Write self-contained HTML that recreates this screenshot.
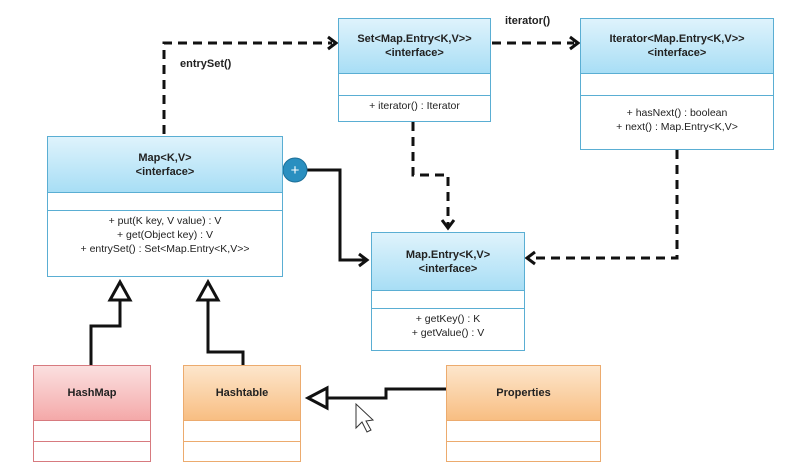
<!DOCTYPE html>
<html><head><meta charset="utf-8"><style>
body{margin:0;width:792px;height:469px;background:#fff;overflow:hidden;font-family:"Liberation Sans",sans-serif;}
.b{position:absolute;box-sizing:border-box;border:1.5px solid #5aaed3;background:#fff;}
.h{box-sizing:border-box;background:linear-gradient(#dff3fc,#a8def5);border-bottom:1.5px solid #5aaed3;display:flex;flex-direction:column;justify-content:center;align-items:center;font-size:11px;font-weight:bold;color:#222;line-height:14px;text-align:center;}
.e{box-sizing:border-box;border-bottom:1.5px solid #5aaed3;}
.m{font-size:10.5px;color:#222;text-align:center;line-height:14px;padding-top:3px;}
.r{border-color:#d77a7f}.r .h{background:linear-gradient(#fbe0e0,#f4a9a9);border-color:#d77a7f}.r .e{border-color:#d77a7f}
.o{border-color:#ecab6e}.o .h{background:linear-gradient(#fde6cc,#f8be82);border-color:#ecab6e}.o .e{border-color:#ecab6e}
.lbl{position:absolute;font-size:11px;font-weight:bold;color:#222;}
</style></head><body>
<svg width="792" height="469" style="position:absolute;left:0;top:0">
<g fill="none" stroke="#111" stroke-width="3">
<path d="M164 134 V43 H332" stroke-dasharray="9,6"/>
<path d="M328 37 L336 43 L328 49"/>
<path d="M492 43 H574" stroke-dasharray="9,6"/>
<path d="M570 37 L578 43 L570 49"/>
<path d="M413 122 V175 H448 V226" stroke-dasharray="9,6"/>
<path d="M442 220 L448 228 L454 220"/>
<path d="M677 150 V258 H530" stroke-dasharray="9,6"/>
<path d="M535 252 L527 258 L535 264"/>
<path d="M306 170 H340 V260 H366"/>
<path d="M359 254 L367 260 L359 266"/>
<path d="M120 300 V326 H91 V365"/>
<path d="M208 300 V352 H243 V365"/>
<path d="M446 389 H386 V398 H328"/>
</g>
<g fill="#fff" stroke="#111" stroke-width="3">
<path d="M120 282 L130 300 L110 300 Z"/>
<path d="M208 282 L218 300 L198 300 Z"/>
<path d="M308 398 L327 388 L327 408 Z"/>
</g>
<circle cx="295" cy="170" r="12" fill="#2a8fc0" stroke="#1c6f98"/>
<text x="295" y="175" fill="#fff" font-size="15" font-family="Liberation Sans" text-anchor="middle">+</text>
<path d="M356 404 V428 L362 422 L367 432 L371 430 L366 421 L373 420 Z" fill="#fff" stroke="#333" stroke-width="1"/>
</svg>
<div class="lbl" style="left:180px;top:58px">entrySet()</div>
<div class="lbl" style="left:505px;top:15px">iterator()</div>

<div class="b" style="left:47px;top:136px;width:236px;height:141px">
<div class="h" style="height:56px">Map&lt;K,V&gt;<br>&lt;interface&gt;</div>
<div class="e" style="height:18px"></div>
<div class="m">+ put(K key, V value) : V<br>+ get(Object key) : V<br>+ entrySet() : Set&lt;Map.Entry&lt;K,V&gt;&gt;</div></div>

<div class="b" style="left:338px;top:18px;width:153px;height:104px">
<div class="h" style="height:55px">Set&lt;Map.Entry&lt;K,V&gt;&gt;<br>&lt;interface&gt;</div>
<div class="e" style="height:22px"></div>
<div class="m">+ iterator() : Iterator</div></div>

<div class="b" style="left:580px;top:18px;width:194px;height:132px">
<div class="h" style="height:55px">Iterator&lt;Map.Entry&lt;K,V&gt;&gt;<br>&lt;interface&gt;</div>
<div class="e" style="height:22px"></div>
<div class="m" style="padding-top:10px">+ hasNext() : boolean<br>+ next() : Map.Entry&lt;K,V&gt;</div></div>

<div class="b" style="left:371px;top:232px;width:154px;height:119px">
<div class="h" style="height:58px">Map.Entry&lt;K,V&gt;<br>&lt;interface&gt;</div>
<div class="e" style="height:18px"></div>
<div class="m">+ getKey() : K<br>+ getValue() : V</div></div>

<div class="b r" style="left:33px;top:365px;width:118px;height:97px">
<div class="h" style="height:55px">HashMap</div><div class="e" style="height:21px"></div></div>
<div class="b o" style="left:183px;top:365px;width:118px;height:97px">
<div class="h" style="height:55px">Hashtable</div><div class="e" style="height:21px"></div></div>
<div class="b o" style="left:446px;top:365px;width:155px;height:97px">
<div class="h" style="height:55px">Properties</div><div class="e" style="height:21px"></div></div>
</body></html>
